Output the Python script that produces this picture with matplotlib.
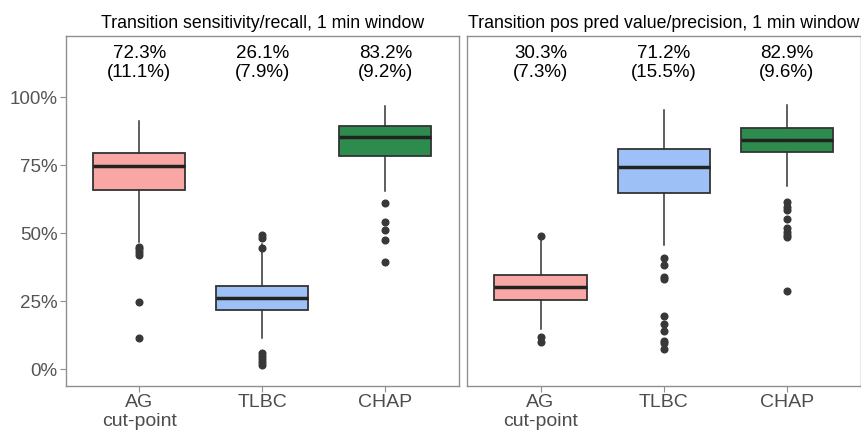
import matplotlib
matplotlib.use("Agg")
import matplotlib.pyplot as plt

plt.rcParams['font.family'] = ['Liberation Sans', 'DejaVu Sans']

methods = ['AG\ncut-point', 'TLBC', 'CHAP']
colors = ['#F9A7A4', '#9DC1F7', '#2E8B4E']

# recall panel (values in %)
rec_med = [74.8, 26.3, 85.3]
rec_q1 = [65.8, 21.8, 78.6]
rec_q3 = [79.4, 30.5, 89.6]
rec_lo = [46.7, 11.5, 65.6]
rec_hi = [91.4, 46.1, 96.8]
rec_out = [[45.1, 44.1, 43.0, 42.0, 24.9, 11.5],
           [49.3, 48.3, 44.5, 6.2, 5.0, 3.8, 2.6, 1.6],
           [61.3, 54.0, 51.1, 47.4, 39.6]]
rec_mean = ['72.3%', '26.1%', '83.2%']
rec_sd = ['(11.1%)', '(7.9%)', '(9.2%)']

# precision panel
pre_med = [30.1, 74.4, 84.3]
pre_q1 = [25.4, 65.0, 80.0]
pre_q3 = [34.6, 80.9, 88.8]
pre_lo = [15.0, 45.7, 67.5]
pre_hi = [48.8, 95.3, 97.2]
pre_out = [[49.0, 11.8, 10.2],
           [40.8, 38.2, 34.1, 33.1, 19.6, 16.7, 14.2, 10.5, 9.6, 7.5],
           [61.5, 59.8, 58.6, 55.4, 51.8, 50.6, 49.4, 48.5, 28.9]]
pre_mean = ['30.3%', '71.2%', '82.9%']
pre_sd = ['(7.3%)', '(15.5%)', '(9.6%)']

fig = plt.figure(figsize=(8.62, 4.30), dpi=100)
ax1 = fig.add_axes([0.0766, 0.103, 0.456, 0.813])
ax2 = fig.add_axes([0.542, 0.103, 0.4564, 0.813])

panels = [
    (ax1, 'Transition sensitivity/recall, 1 min window', rec_med, rec_q1, rec_q3, rec_lo, rec_hi, rec_out, rec_mean, rec_sd),
    (ax2, 'Transition pos pred value/precision, 1 min window', pre_med, pre_q1, pre_q3, pre_lo, pre_hi, pre_out, pre_mean, pre_sd),
]

for ax, title, med, q1, q3, lo, hi, out, mean, sd in panels:
    stats = []
    for i in range(3):
        stats.append(dict(med=med[i], q1=q1[i], q3=q3[i], whislo=lo[i], whishi=hi[i],
                          fliers=out[i], label=methods[i]))
    bp = ax.bxp(stats, positions=[1, 2, 3], widths=0.75, patch_artist=True,
                boxprops=dict(edgecolor='#333333', linewidth=1.3),
                medianprops=dict(color='#222222', linewidth=2.5),
                whiskerprops=dict(color='#333333', linewidth=1.1),
                capprops=dict(linewidth=0),
                flierprops=dict(marker='o', markerfacecolor='#383838', markeredgecolor='#383838',
                                markersize=4.8, linestyle='none'))
    for patch, c in zip(bp['boxes'], colors):
        patch.set_facecolor(c)
    for i in range(3):
        ax.text(i + 1, 116.0, mean[i], ha='center', va='center', fontsize=13.5, color='black')
        ax.text(i + 1, 109.0, sd[i], ha='center', va='center', fontsize=13.5, color='black')
    ax.set_xlim(0.404, 3.6)
    ax.set_ylim(-6, 122.5)
    ax.set_title(title, fontsize=12.8, pad=6)
    for s in ax.spines.values():
        s.set_color('#8f8f8f')
        s.set_linewidth(1.0)
    ax.tick_params(axis='x', labelsize=14, colors='#8f8f8f', labelcolor='#4d4d4d', length=4, pad=2)
    ax.set_xticks([1, 2, 3])
    ax.set_xticklabels(methods, linespacing=1.15)

ax1.set_yticks([0, 25, 50, 75, 100])
ax1.set_yticklabels(['0%', '25%', '50%', '75%', '100%'])
ax1.tick_params(axis='y', labelsize=13.5, colors='#8f8f8f', labelcolor='#555555', length=4, pad=2)
ax2.set_yticks([])

fig.savefig('out.png', dpi=100)
